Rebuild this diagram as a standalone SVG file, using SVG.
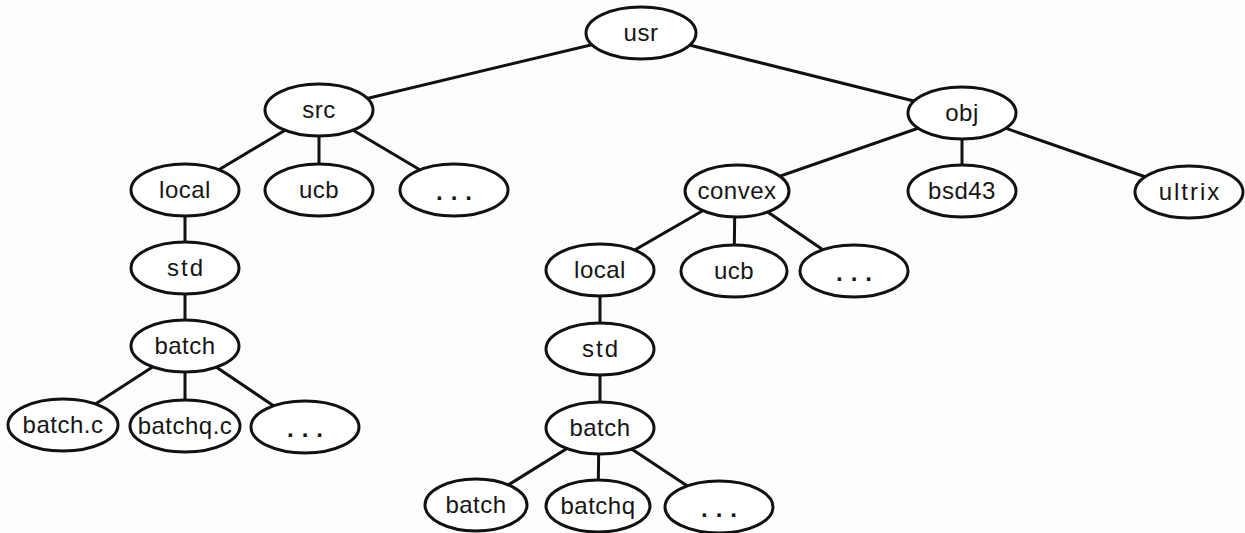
<svg xmlns="http://www.w3.org/2000/svg" width="1245" height="533" viewBox="0 0 1245 533">
<style>
.bg{fill:#fdfdfd}
.n ellipse{fill:#ffffff;stroke:#111111;stroke-width:3}
.n text{font-family:"Liberation Sans",Arial,Helvetica,sans-serif;font-size:24px;fill:#151515;text-anchor:middle;letter-spacing:0.5px}
.n text.w{letter-spacing:2px}
.n text.d{letter-spacing:8px;font-weight:bold}
#edges line{stroke:#111111;stroke-width:3;stroke-linecap:round}
</style>
<rect class="bg" x="0" y="0" width="1245" height="533"/>
<g id="edges">
<line x1="641" y1="33" x2="319" y2="110"/>
<line x1="641" y1="33" x2="962" y2="113"/>
<line x1="319" y1="110" x2="185" y2="190"/>
<line x1="319" y1="110" x2="319" y2="190"/>
<line x1="319" y1="110" x2="454" y2="190"/>
<line x1="962" y1="113" x2="737" y2="191"/>
<line x1="962" y1="113" x2="962" y2="191"/>
<line x1="962" y1="113" x2="1189" y2="192"/>
<line x1="185" y1="190" x2="185" y2="268"/>
<line x1="185" y1="268" x2="185" y2="346"/>
<line x1="185" y1="346" x2="63" y2="425"/>
<line x1="185" y1="346" x2="185" y2="426"/>
<line x1="185" y1="346" x2="305" y2="427"/>
<line x1="737" y1="191" x2="600" y2="270"/>
<line x1="735" y1="191" x2="734" y2="271"/>
<line x1="737" y1="191" x2="854" y2="271"/>
<line x1="600" y1="270" x2="600" y2="349"/>
<line x1="600" y1="349" x2="600" y2="428"/>
<line x1="600" y1="428" x2="476" y2="505"/>
<line x1="599" y1="428" x2="598" y2="506"/>
<line x1="600" y1="428" x2="719" y2="507"/>
</g>
<g id="usr" class="n"><ellipse cx="641" cy="33" rx="55" ry="26"/><text x="641" y="41">usr</text></g>
<g id="src" class="n"><ellipse cx="319" cy="110" rx="54" ry="26"/><text x="319" y="118">src</text></g>
<g id="obj" class="n"><ellipse cx="962" cy="113" rx="54" ry="26"/><text x="962" y="121">obj</text></g>
<g id="src-local" class="n"><ellipse cx="185" cy="190" rx="54" ry="26"/><text x="185" y="198">local</text></g>
<g id="src-ucb" class="n"><ellipse cx="319" cy="190" rx="54" ry="26"/><text x="319" y="198">ucb</text></g>
<g id="src-more" class="n"><ellipse cx="454" cy="190" rx="54" ry="26"/><text class="d" x="458" y="200">...</text></g>
<g id="convex" class="n"><ellipse cx="737" cy="191" rx="52" ry="26"/><text x="737" y="199">convex</text></g>
<g id="bsd43" class="n"><ellipse cx="962" cy="191" rx="54" ry="26"/><text x="962" y="199">bsd43</text></g>
<g id="ultrix" class="n"><ellipse cx="1189" cy="192" rx="54" ry="26"/><text class="w" x="1190" y="200">ultrix</text></g>
<g id="src-std" class="n"><ellipse cx="185" cy="268" rx="54" ry="26"/><text class="w" x="186" y="276">std</text></g>
<g id="src-batch" class="n"><ellipse cx="185" cy="346" rx="54" ry="26"/><text x="185" y="354">batch</text></g>
<g id="batch-c" class="n"><ellipse cx="63" cy="425" rx="55" ry="26"/><text x="63" y="433">batch.c</text></g>
<g id="batchq-c" class="n"><ellipse cx="185" cy="426" rx="55" ry="26"/><text x="185" y="434">batchq.c</text></g>
<g id="src-batch-more" class="n"><ellipse cx="305" cy="427" rx="54" ry="26"/><text class="d" x="309" y="437">...</text></g>
<g id="convex-local" class="n"><ellipse cx="600" cy="270" rx="54" ry="26"/><text x="600" y="278">local</text></g>
<g id="convex-ucb" class="n"><ellipse cx="734" cy="271" rx="53" ry="26"/><text x="734" y="279">ucb</text></g>
<g id="convex-more" class="n"><ellipse cx="854" cy="271" rx="54" ry="26"/><text class="d" x="858" y="281">...</text></g>
<g id="convex-std" class="n"><ellipse cx="600" cy="349" rx="54" ry="26"/><text class="w" x="601" y="357">std</text></g>
<g id="convex-batch" class="n"><ellipse cx="600" cy="428" rx="54" ry="26"/><text x="600" y="436">batch</text></g>
<g id="batch-bin" class="n"><ellipse cx="476" cy="505" rx="51" ry="26"/><text x="476" y="513">batch</text></g>
<g id="batchq" class="n"><ellipse cx="598" cy="506" rx="52" ry="26"/><text x="598" y="514">batchq</text></g>
<g id="convex-batch-more" class="n"><ellipse cx="719" cy="507" rx="54" ry="26"/><text class="d" x="723" y="517">...</text></g>
</svg>
